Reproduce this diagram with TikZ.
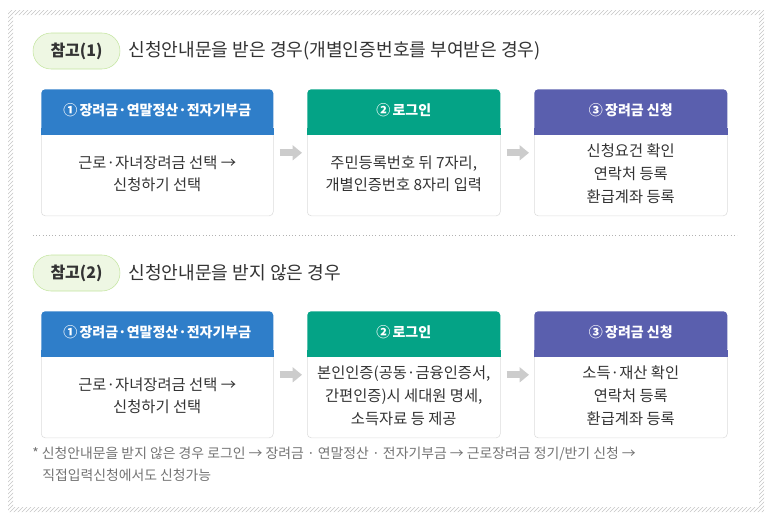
\documentclass[tikz,border=0pt]{standalone}
\usepackage{fontspec}
\setmainfont{Noto Sans CJK KR}
\usepackage{tikz}
\usetikzlibrary{positioning,patterns,arrows.meta,calc}
\definecolor{hdblue}{HTML}{2F7EC9}
\definecolor{hdgreen}{HTML}{04A386}
\definecolor{hdpurple}{HTML}{5A5FAE}
\definecolor{pillfill}{HTML}{EEF7E3}
\definecolor{pillline}{HTML}{C4E5A0}
\definecolor{boxline}{HTML}{DCDCDC}
\definecolor{txt}{HTML}{333333}
\definecolor{flow}{HTML}{CCCCCC}
\tikzset{
  hd/.style={rectangle,rounded corners=3pt,minimum height=31.5pt,inner sep=0pt,
    text=white,font=\fontsize{10.5}{12}\selectfont\bfseries},
  bodybox/.style={rectangle,rounded corners=3pt,draw=boxline,minimum height=63pt,
    inner sep=0pt,align=center,text=txt,font=\fontsize{11.5}{17}\selectfont},
  pill/.style={rectangle,rounded corners=13.5pt,fill=pillfill,draw=pillline,
    minimum width=65.25pt,minimum height=27pt,inner sep=0pt,text=txt,
    font=\fontsize{12}{14}\selectfont\bfseries},
  ttl/.style={anchor=west,inner sep=0pt,text=txt,font=\fontsize{13.6}{15}\selectfont},
  flowarrow/.style={line width=5.25pt,draw=flow,-{Triangle[length=7pt,width=11pt]},
    shorten <=4.5pt,shorten >=3.75pt}
}
\begin{document}
\begin{tikzpicture}[x=0.75pt,y=-0.75pt]
  \useasboundingbox (0,0) rectangle (773,522);
  % hatched frame
  \fill[pattern=north east lines,pattern color=gray!45,even odd rule]
    (8,10) rectangle (764,512) (13,15) rectangle (759,507);

  % case 1
  \node[pill] (pill1) at (76.5,51) {참고(1)};
  \node[ttl,right=6pt of pill1] (ttl1) {신청안내문을 받은 경우(개별인증번호를 부여받은 경우)};

  \node[hd,fill=hdblue,minimum width=174pt,anchor=north west] (hdA1) at (41,89) {①\,장려금·연말정산·전자기부금};
  \node[bodybox,minimum width=174pt,below=0pt of hdA1] (bodyA1) {근로·자녀장려금 선택 →\\신청하기 선택};
  \node[hd,fill=hdgreen,minimum width=144.75pt,anchor=north west] (hdA2) at (307,89) {②\,로그인};
  \node[bodybox,minimum width=144.75pt,below=0pt of hdA2] (bodyA2) {주민등록번호 뒤 7자리,\\개별인증번호 8자리 입력};
  \node[hd,fill=hdpurple,minimum width=144.75pt,anchor=north west] (hdA3) at (534,89) {③\,장려금 신청};
  \node[bodybox,minimum width=144.75pt,below=0pt of hdA3] (bodyA3) {신청요건 확인\\연락처 등록\\환급계좌 등록};

  \draw[flowarrow] ([yshift=15.75pt]bodyA1.east) -- ([yshift=15.75pt]bodyA2.west);
  \draw[flowarrow] ([yshift=15.75pt]bodyA2.east) -- ([yshift=15.75pt]bodyA3.west);

  \draw[dotted,gray!60] (33,235) -- (737,235);

  % case 2
  \node[pill] (pill2) at (76.5,273) {참고(2)};
  \node[ttl,right=6pt of pill2] (ttl2) {신청안내문을 받지 않은 경우};

  \node[hd,fill=hdblue,minimum width=174pt,anchor=north west] (hdB1) at (41,311) {①\,장려금·연말정산·전자기부금};
  \node[bodybox,minimum width=174pt,below=0pt of hdB1] (bodyB1) {근로·자녀장려금 선택 →\\신청하기 선택};
  \node[hd,fill=hdgreen,minimum width=144.75pt,anchor=north west] (hdB2) at (307,311) {②\,로그인};
  \node[bodybox,minimum width=144.75pt,below=0pt of hdB2] (bodyB2) {본인인증(공동·금융인증서,\\간편인증)시 세대원 명세,\\소득자료 등 제공};
  \node[hd,fill=hdpurple,minimum width=144.75pt,anchor=north west] (hdB3) at (534,311) {③\,장려금 신청};
  \node[bodybox,minimum width=144.75pt,below=0pt of hdB3] (bodyB3) {소득·재산 확인\\연락처 등록\\환급계좌 등록};

  \draw[flowarrow] ([yshift=15.75pt]bodyB1.east) -- ([yshift=15.75pt]bodyB2.west);
  \draw[flowarrow] ([yshift=15.75pt]bodyB2.east) -- ([yshift=15.75pt]bodyB3.west);

  % square off the lower corners of the headers
  \foreach \n/\c in {hdA1/hdblue,hdA2/hdgreen,hdA3/hdpurple,hdB1/hdblue,hdB2/hdgreen,hdB3/hdpurple}
    \fill[\c] ([yshift=3pt]\n.south west) rectangle ([yshift=-2.25pt]\n.south east);

  \node[anchor=north west,align=left,inner sep=0pt,text=gray!90!black,
    font=\fontsize{10.4}{16.5}\selectfont] (note) at (32,447)
    {* 신청안내문을 받지 않은 경우 로그인 → 장려금 · 연말정산 · 전자기부금 → 근로장려금 정기/반기 신청 →\\\hspace*{7.5pt}직접입력신청에서도 신청가능};
\end{tikzpicture}
\end{document}
